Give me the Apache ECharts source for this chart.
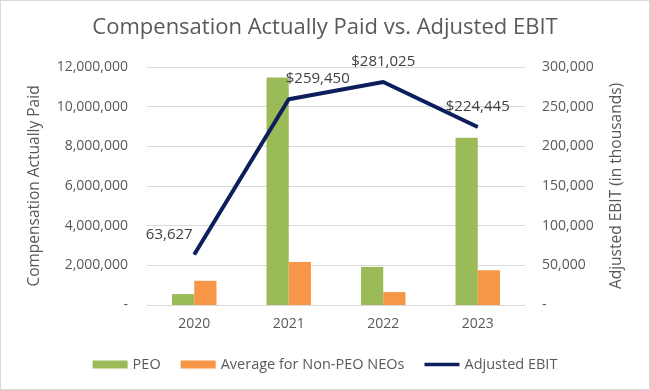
<!DOCTYPE html>
<html><head><meta charset="utf-8">
<script src="https://cdn.jsdelivr.net/npm/echarts@6/dist/echarts.min.js"></script>
<style>html,body{margin:0;padding:0;background:#fff}#c{width:650px;height:390px;box-sizing:border-box;border:1px solid #d9d9d9}</style>
</head><body><div id="c"></div>
<script>
const categories = ['2020', '2021', '2022', '2023'];
const peo = [550000, 11470000, 1920000, 8430000];
const nonPeo = [1220000, 2170000, 650000, 1750000];
const ebit = [63627, 259450, 281025, 224445];
const ebitLabels = ['63,627', '$259,450', '$281,025', '$224,445'];
const leftTicks = [0, 2000000, 4000000, 6000000, 8000000, 10000000, 12000000];
const rightTicks = [0, 50000, 100000, 150000, 200000, 250000, 300000];

const FONT = 'Open Sans';
const GREY = '#595959';
const fmt = v => v === 0 ? '-' : v.toLocaleString('en-US');
const labelOffsets = [[-25, 0], [29, 0], [0, 0], [0, 0]];

const chart = echarts.init(document.getElementById('c'));
chart.setOption({
  animation: false,
  textStyle: { fontFamily: FONT },
  title: {
    text: 'Compensation Actually Paid vs. Adjusted EBIT',
    left: 'center', top: 11,
    textStyle: { fontFamily: FONT, fontSize: 22, fontWeight: 'normal', color: GREY }
  },
  legend: {
    bottom: 12, left: 'center',
    itemWidth: 35, itemHeight: 8, itemGap: 20,
    textStyle: { fontFamily: FONT, fontSize: 14.5, color: GREY },
    data: [
      { name: 'PEO', icon: 'rect' },
      { name: 'Average for Non-PEO NEOs', icon: 'rect' },
      { name: 'Adjusted EBIT', icon: 'path://M0,0 L35,0 L35,3.5 L0,3.5 Z' }
    ]
  },
  grid: { left: 146, right: 124, top: 66, bottom: 84 },
  xAxis: {
    type: 'category', data: categories,
    axisLine: { show: true, lineStyle: { color: '#d9d9d9' } },
    axisTick: { show: false },
    axisLabel: { color: GREY, fontSize: 14, fontFamily: FONT, margin: 12 }
  },
  yAxis: [
    {
      type: 'value', min: leftTicks[0], max: leftTicks[leftTicks.length - 1], interval: 2000000,
      name: 'Compensation Actually Paid', nameLocation: 'middle', nameGap: 104,
      nameTextStyle: { color: GREY, fontSize: 15.5, fontFamily: FONT },
      axisLine: { show: false }, axisTick: { show: false },
      axisLabel: { color: GREY, fontSize: 14, fontFamily: FONT, margin: 19, formatter: fmt },
      splitLine: { lineStyle: { color: '#d9d9d9' } }
    },
    {
      type: 'value', min: rightTicks[0], max: rightTicks[rightTicks.length - 1], interval: 50000,
      name: 'Adjusted EBIT (in thousands)', nameLocation: 'middle', nameGap: 84,
      nameRotate: 90,
      nameTextStyle: { color: GREY, fontSize: 15.5, fontFamily: FONT },
      axisLine: { show: false }, axisTick: { show: false },
      axisLabel: { color: GREY, fontSize: 14, fontFamily: FONT, margin: 17, formatter: fmt },
      splitLine: { show: false }
    }
  ],
  series: [
    {
      name: 'PEO', type: 'bar', data: peo, yAxisIndex: 0,
      itemStyle: { color: '#9BBB59' }, barGap: '0%', barCategoryGap: '53%'
    },
    {
      name: 'Average for Non-PEO NEOs', type: 'bar', data: nonPeo, yAxisIndex: 0,
      itemStyle: { color: '#F79646' }, barGap: '0%', barCategoryGap: '53%'
    },
    {
      name: 'Adjusted EBIT', type: 'line', yAxisIndex: 1, z: 5,
      symbol: 'circle', symbolSize: 1, showSymbol: true,
      lineStyle: { color: '#0C1F5C', width: 4 },
      itemStyle: { color: '#0C1F5C' },
      data: ebit.map((v, i) => ({
        value: v,
        label: {
          show: true, position: 'top', distance: 12,
          offset: labelOffsets[i],
          formatter: ebitLabels[i],
          color: '#404040', fontSize: 15, fontFamily: FONT
        }
      }))
    }
  ]
});
</script></body></html>
